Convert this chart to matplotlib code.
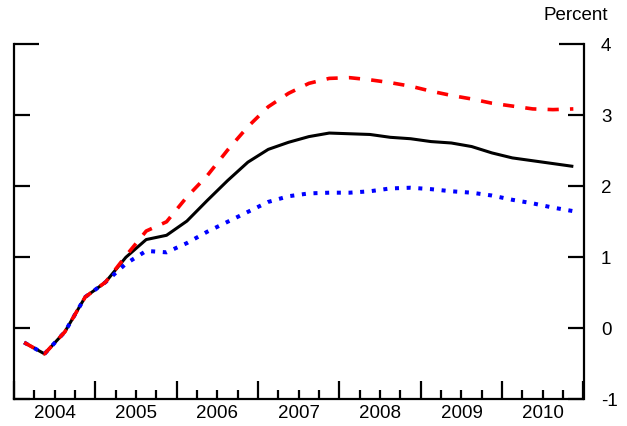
import matplotlib
matplotlib.use("Agg")
import matplotlib.pyplot as plt
from matplotlib.ticker import FixedLocator

plt.rcParams['font.family'] = ['Liberation Sans', 'DejaVu Sans']

# Quarterly series, 2004:Q1 through 2010:Q4
years = [2004, 2005, 2006, 2007, 2008, 2009, 2010]
quarters = [(y, q) for y in years for q in (1, 2, 3, 4)]

baseline = [-0.20, -0.36, -0.05, 0.44, 0.65, 1.00, 1.25, 1.31, 1.51, 1.80,
            2.08, 2.34, 2.52, 2.62, 2.70, 2.75, 2.74, 2.73, 2.69, 2.67,
            2.63, 2.61, 2.56, 2.47, 2.40, 2.36, 2.32, 2.28]
high = [-0.20, -0.36, -0.05, 0.44, 0.65, 1.02, 1.37, 1.50, 1.85, 2.15,
        2.51, 2.84, 3.12, 3.31, 3.45, 3.52, 3.53, 3.50, 3.46, 3.41,
        3.34, 3.28, 3.23, 3.17, 3.13, 3.09, 3.08, 3.09]
low = [-0.20, -0.36, -0.05, 0.44, 0.65, 0.91, 1.09, 1.07, 1.20, 1.36,
       1.50, 1.64, 1.78, 1.86, 1.90, 1.91, 1.91, 1.93, 1.97, 1.98,
       1.96, 1.93, 1.91, 1.87, 1.81, 1.76, 1.70, 1.65]

y_ticks = [-1, 0, 1, 2, 3]
y_top = 4
year_labels = [str(y) for y in years]

# place each quarter at its midpoint
x = [y + (q - 0.5) / 4 for y, q in quarters]

W, H = 627, 426
fig = plt.figure(figsize=(W / 100, H / 100), dpi=100)
ax = fig.add_axes([14 / W, (H - 399.3) / H, (583.5 - 14) / W, (399.3 - 44.3) / H])

ax.plot(x, baseline, color='black', lw=2.2, solid_capstyle='butt', zorder=3)
ax.plot(x, low, color='#0000ff', lw=2.9, dashes=(1, 1.9), dash_capstyle='butt', zorder=4)
ax.plot(x, high, color='#ff0000', lw=2.6, dashes=(3.1, 3.1), dash_capstyle='butt', zorder=5)

ax.set_xlim(years[0], years[-1] + 1)
ax.set_ylim(y_ticks[0], y_top)

for side in ('left', 'right', 'bottom'):
    ax.spines[side].set_linewidth(1.6)
ax.spines['top'].set_visible(False)

# vertical axis: labels on the right, ticks pointing inward on both sides
ax.yaxis.set_major_locator(FixedLocator(y_ticks))
ax.yaxis.set_minor_locator(FixedLocator([y_top]))
ax.set_yticklabels([str(v) for v in y_ticks])
ax.yaxis.set_minor_formatter(lambda v, pos: f"{v:g}")
ax.tick_params(axis='y', which='both', direction='in', left=True, right=True,
               labelleft=False, labelright=True, width=1.6, labelsize=13.5, pad=12.5)
ax.tick_params(axis='y', which='major', length=11.5)
ax.tick_params(axis='y', which='minor', length=18)

# horizontal axis: tall ticks at year boundaries, short ticks at quarters
year_edges = list(range(years[0], years[-1] + 2))
quarter_edges = [y + q / 4 for y in years for q in (1, 2, 3)]
ax.xaxis.set_major_locator(FixedLocator(year_edges))
ax.xaxis.set_minor_locator(FixedLocator(quarter_edges))
ax.tick_params(axis='x', which='both', direction='in', labelbottom=False, width=1.6)
ax.tick_params(axis='x', which='major', length=13)
ax.tick_params(axis='x', which='minor', length=6.8)

# year names centred under each year
sec = ax.secondary_xaxis('bottom')
sec.set_xticks([y + 0.5 for y in years], year_labels)
sec.tick_params(axis='x', length=0, pad=4, labelsize=13.5)
sec.spines['bottom'].set_visible(False)

fig.text(608 / W, 1 - 15 / H, 'Percent', ha='right', va='center', fontsize=13.5)

fig.savefig('out.png', dpi=100)
